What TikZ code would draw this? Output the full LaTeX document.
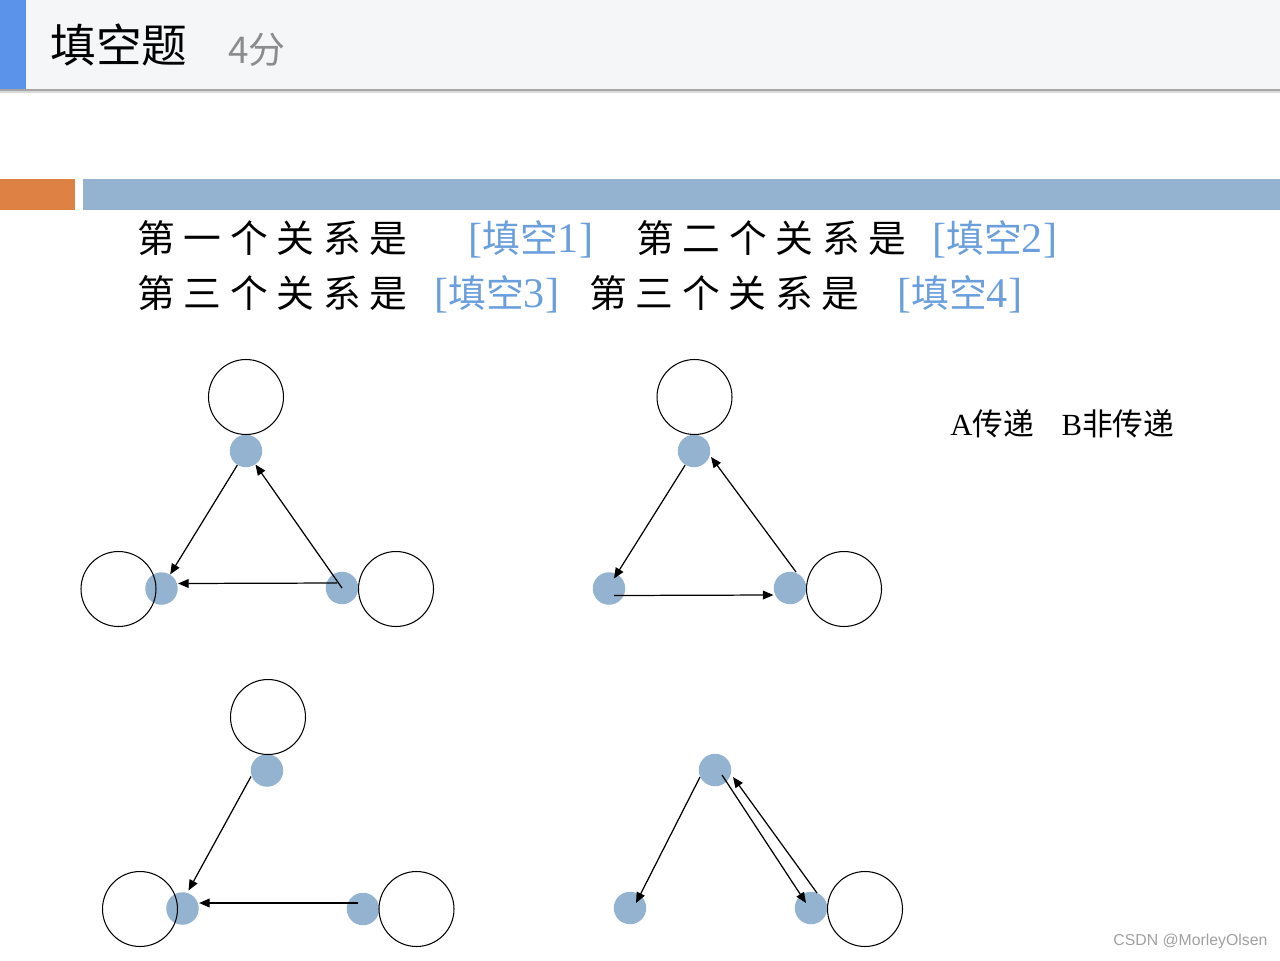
\documentclass[tikz,border=0pt]{standalone}
\usepackage{fontspec}
\setmainfont{Noto Sans CJK SC}
\newfontfamily\lat{Liberation Serif}
\newfontfamily\cjkwide[LetterSpace=23]{Noto Sans CJK SC}
\newfontfamily\wm{Liberation Sans}
\usetikzlibrary{arrows.meta}
\definecolor{hdrbg}{HTML}{F5F6F8}
\definecolor{barblue}{HTML}{5B93EA}
\definecolor{barorange}{HTML}{DE8145}
\definecolor{barsteel}{HTML}{94B3D0}
\definecolor{spotblue}{HTML}{94B3D0}
\definecolor{blanktext}{HTML}{6A9EDC}
\definecolor{markgray}{HTML}{8C8C8C}
\definecolor{wmgray}{HTML}{A0A0A0}
\newcommand{\blank}[1]{{\lat\fontsize{24pt}{26pt}\selectfont[}{\fontsize{21.5pt}{26pt}\selectfont 填空}{\lat\fontsize{24pt}{26pt}\selectfont #1]}}
\tikzset{
    ring/.style={circle, draw, line width=0.6pt, minimum size=1.5cm, inner sep=0pt},
    spot/.style={circle, fill=spotblue, minimum size=0.65cm, inner sep=0pt},
    arr/.style={-{Triangle[length=6pt,width=5pt]}, line width=0.7pt},
    txt/.style={anchor=west, inner sep=0pt},
    phrase/.style={txt, font=\cjkwide\fontsize{21.5pt}{26pt}\selectfont},
  }
\begin{document}
\begin{tikzpicture}[x=0.02cm,y=-0.02cm]
				  %page in pixels, y downwards
				  \useasboundingbox (0,0) rectangle (1280,960);
				  %header
				  \fill[hdrbg] (0,0) rectangle (1280,89);
				  \fill[gray!70] (0,89) rectangle (1280,91);
				  \fill[gray!30] (0,91) rectangle (1280,93);
				  \fill[barblue] (0,0) rectangle (26,89);
				  \node[txt] (title) at (50,45) {\fontsize{26pt}{30pt}\selectfont 填空题};
				  \node[txt, text=markgray] (score) at (228,50) {\fontsize{21pt}{24pt}\selectfont 4分};
				  %bars
				  \fill[barorange] (0,179) rectangle (75,210);
				  \fill[barsteel] (83,179) rectangle (1280,210);
				  %question
				  \node[phrase] (q1) at (137,238) {第一个关系是};
				  \node[txt, text=blanktext] (b1) at (468,239) {\blank{1}};
				  \node[phrase] (q2) at (636,238) {第二个关系是};
				  \node[txt, text=blanktext] (b2) at (932,239) {\blank{2}};
				  \node[phrase] (q3) at (137,293) {第三个关系是};
				  \node[txt, text=blanktext] (b3) at (434,294) {\blank{3}};
				  \node[phrase] (q4) at (589,293) {第三个关系是};
				  \node[txt, text=blanktext] (b4) at (897,294) {\blank{4}};
				  \node[txt] (key) at (950,424) {\fontsize{17.5pt}{20pt}\selectfont{\lat A}传递\hspace{0.9em}{\lat B}非传递};
				  %spots
				  \node[spot] (t1) at (246,451) {};
				  \node[spot] (l1) at (161.5,588.5) {};
				  \node[spot] (r1) at (342,588) {};
				  \node[spot] (t2) at (694,451) {};
				  \node[spot] (l2) at (609,588.5) {};
				  \node[spot] (r2) at (790,588) {};
				  \node[spot] (t3) at (267,770.5) {};
				  \node[spot] (l3) at (182.5,908.5) {};
				  \node[spot] (r3) at (363,909) {};
				  \node[spot] (t4) at (715,770) {};
				  \node[spot] (l4) at (630,908) {};
				  \node[spot] (r4) at (811,908) {};
				  %rings
				  \node[ring] (T1) at (246,397) {};
				  \node[ring] (L1) at (118.5,589) {};
				  \node[ring] (R1) at (396,589) {};
				  \node[ring] (T2) at (694.5,397) {};
				  \node[ring] (R2) at (844,589) {};
				  \node[ring] (T3) at (268,717) {};
				  \node[ring] (L3) at (140,909) {};
				  \node[ring] (R3) at (416.5,909) {};
				  \node[ring] (R4) at (865,909) {};
				  %arrows
				  \draw[arr] (t1) -- (l1);
				  \draw[arr] (r1.center) -- (t1);
				  \draw[arr] ([shift={(-5,-5)}]r1.center) -- ([shift={(0,-5)}]l1.east);
				  \draw[arr] (t2) -- ([shift={(5,-10)}]l2.center);
				  \draw[arr] ([shift={(6,-16)}]r2.center) -- ([shift={(17,6)}]t2.center);
				  \draw[arr] ([shift={(5,7)}]l2.center) -- ([shift={(0,7)}]r2.west);
				  \draw[arr] ([shift={(-16,6)}]t3.center) -- ([shift={(6,-18)}]l3.center);
				  \draw[arr] ([shift={(-5,-6)}]r3.center) -- ([shift={(0,-5.5)}]l3.east);
				  \draw[arr] ([shift={(-15,7)}]t4.center) -- ([shift={(6,-5)}]l4.center);
				  \draw[arr] ([shift={(7,5)}]t4.center) -- ([shift={(-5,-5)}]r4.center);
				  \draw[arr] ([shift={(6,-15)}]r4.center) -- ([shift={(18,7)}]t4.center);
				  %watermark
				  \node[txt, text=wmgray] (mark) at (1113,941) {\wm\fontsize{9pt}{11pt}\selectfont CSDN @MorleyOlsen};
\end{tikzpicture}
\end{document}
